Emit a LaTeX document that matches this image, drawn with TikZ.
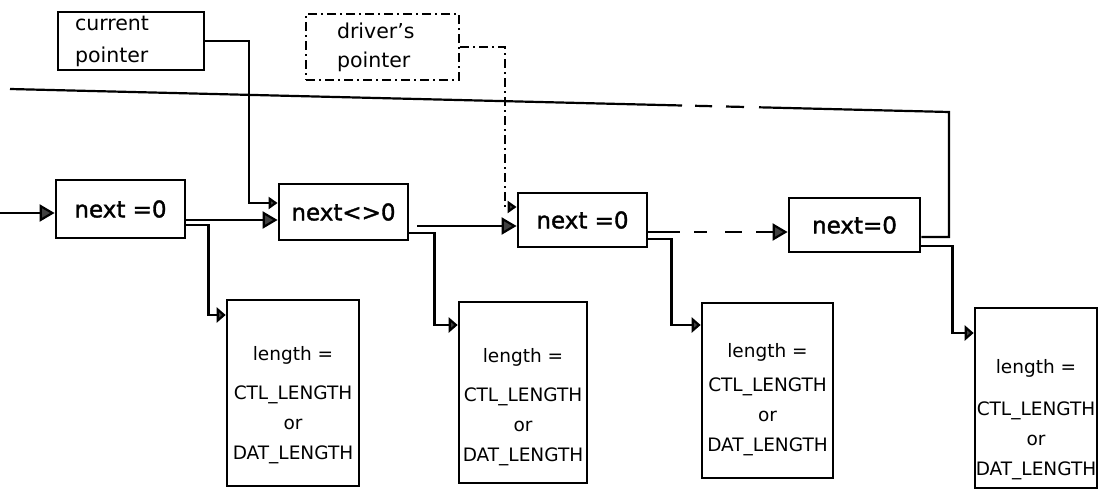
\documentclass[tikz,border=0pt]{standalone}
\usepackage{fontspec}
\setmainfont{DejaVu Sans}
\newfontfamily\nextfont[FakeBold=1.5]{DejaVu Sans}
\usetikzlibrary{arrows.meta,calc}
\begin{document}
\begin{tikzpicture}[x=1pt,y=-1pt,
  box/.style={draw, line width=2.8pt, inner sep=0pt, font=\nextfont\fontsize{23}{27}\selectfont},
  lenbox/.style={draw, line width=2.6pt, inner sep=0pt},
  lentext/.style={align=center, inner sep=0pt, font=\fontsize{18.5}{30}\selectfont},
  ptrbox/.style={draw, line width=2pt, inner sep=0pt, align=left},
  conn/.style={line width=2.2pt},
  dashdot/.style={dash pattern=on 9pt off 4pt on 2pt off 4pt},
  bigarrow/.style={conn, -{Triangle[length=15pt,width=17pt,fill=black!75]}},
  lenarrow/.style={conn, -{Triangle[length=9pt,width=15pt,fill=black!75]}},
  ptrarrow/.style={conn, -{Triangle[length=9pt,width=12pt,fill=black!75]}}
]
\useasboundingbox (0,0) rectangle (1101,490);

% pointer boxes
\node[ptrbox, minimum width=146pt, minimum height=58pt, text width=112pt,
      font=\fontsize{20.5}{32}\selectfont] (cur) at (131,41) {current\\pointer};
\node[ptrbox, dashdot, minimum width=153pt, minimum height=66pt, text width=91pt,
      font=\fontsize{20.5}{29}\selectfont] (drv) at (382.5,47) {driver's\\pointer};

% list elements
\node[box, minimum width=129pt, minimum height=58pt] (b1) at (120.5,209) {next =0};
\node[box, minimum width=129pt, minimum height=56pt] (b2) at (343.5,212) {next<>0};
\node[box, minimum width=129pt, minimum height=54pt] (b3) at (582.5,220) {next =0};
\node[box, minimum width=131pt, minimum height=54pt] (b4) at (854.5,225) {next=0};

% length boxes
\node[lenbox, minimum width=132pt, minimum height=186pt] (L1) at (293,393) {};
\node[lenbox, minimum width=128pt, minimum height=181pt] (L2) at (523,392.5) {};
\node[lenbox, minimum width=131pt, minimum height=175pt] (L3) at (767.5,390.5) {};
\node[lenbox, minimum width=122pt, minimum height=180pt] (L4) at (1036,398) {};
\node[lentext] (L1t) at ([yshift=-12pt]L1.center) {length =\\[9pt]CTL\_LENGTH\\or\\DAT\_LENGTH};
\node[lentext] (L2t) at ([yshift=-15pt]L2.center) {length =\\[9pt]CTL\_LENGTH\\or\\DAT\_LENGTH};
\node[lentext] (L3t) at ([yshift=-9pt]L3.center) {length =\\[4pt]CTL\_LENGTH\\or\\DAT\_LENGTH};
\node[lentext] (L4t) at ([yshift=-22pt]L4.center) {length =\\[12pt]CTL\_LENGTH\\or\\DAT\_LENGTH};

% coordinates for free ends
\coordinate (in) at (0,213);
\coordinate (loopR) at (949,112);
\coordinate (dashR) at (759,107.3);
\coordinate (dashL) at (682,105.5);
\coordinate (loopL) at (10,89);

% main chain
\draw[bigarrow] (in) -- ([yshift=-4pt]b1.west);
\draw[bigarrow] ([yshift=-11pt]b1.east) -- ([yshift=-8pt]b2.west);
\draw[bigarrow] ([xshift=8pt,yshift=-14pt]b2.east) -- ([yshift=-6pt]b3.west);
\draw[bigarrow, dash pattern=on 32pt off 14pt on 13pt off 18pt on 17pt off 14pt on 80pt]
  ([yshift=-12pt]b3.east) -- ([yshift=-7pt]b4.west);

% to length boxes
\draw[lenarrow] ([yshift=-16pt]b1.east) -- ++(22,0) |- ([yshift=78pt]L1.west);
\draw[lenarrow] ([yshift=-21pt]b2.east) -- ++(25,0) |- ([yshift=67.5pt]L2.west);
\draw[lenarrow] ([yshift=-19pt]b3.east) -- ++(23,0) |- ([yshift=65.5pt]L3.west);
\draw[lenarrow] ([yshift=-21pt]b4.east) -- ++(31,0) |- ([yshift=65pt]L4.west);

% pointers
\draw[ptrarrow] (cur.east) -- ++(44,0) |- ([yshift=9pt]b2.west);
\draw[ptrarrow, dashdot] (drv.east) -- ++(45,0) |- ([yshift=13pt]b3.west);

% loop line from last element
\draw[conn] ([yshift=-12pt]b4.east) -| (loopR) -- (dashR);
\draw[conn, dash pattern=on 0pt off 15pt on 18pt off 14pt on 17pt off 13pt] (dashR) -- (dashL);
\draw[conn] (dashL) -- (loopL);
\end{tikzpicture}
\end{document}
